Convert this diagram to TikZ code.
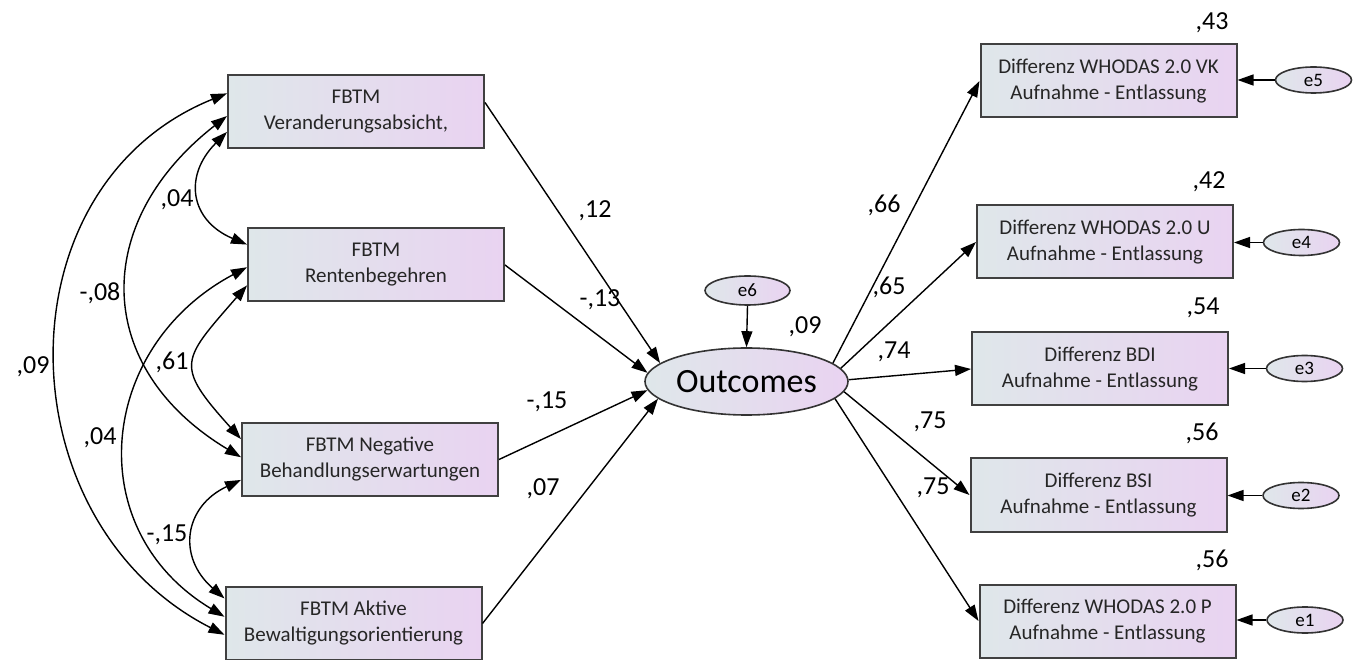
\documentclass[tikz,border=0pt]{standalone}
\usepackage{fontspec}
\setmainfont{Carlito}
\usetikzlibrary{arrows.meta,shapes.geometric}
\definecolor{boxl}{HTML}{DFE7EA}
\definecolor{boxr}{HTML}{E9D3F1}
\begin{document}
\begin{tikzpicture}[x=0.5pt,y=0.5pt,
  obs/.style={draw=black!75,line width=1pt,left color=boxl,right color=boxr,minimum width=128pt,minimum height=36.5pt,inner sep=0pt,align=center,text=black!85,font=\fontsize{10.5}{13}\selectfont},
  lat/.style={ellipse,draw=black!80,line width=0.8pt,left color=boxl,right color=boxr,inner sep=0pt},
  err/.style={lat,minimum width=38pt,minimum height=13pt,font=\fontsize{9.5}{10}\selectfont},
  val/.style={font=\fontsize{13}{15}\selectfont},
  reg/.style={line width=0.7pt,-{Triangle[length=8pt,width=5.5pt]}},
  cov/.style={line width=0.7pt,{Triangle[length=8pt,width=5.5pt]}-{Triangle[length=8pt,width=5.5pt]}}]
\useasboundingbox (0,0) rectangle (1354,659);
% predictors
\node[obs] (fa) at (356,547.5) {FBTM\\Veranderungsabsicht,};
\node[obs] (fb) at (376,394) {FBTM\\Rentenbegehren};
\node[obs] (fc) at (370,199.5) {FBTM Negative\\Behandlungserwartungen};
\node[obs] (fd) at (353.5,35.5) {FBTM Aktive\\Bewaltigungsorientierung};
% latent
\node[lat,minimum width=101.5pt,minimum height=33.5pt,font=\fontsize{17}{20}\selectfont] (oc) at (746.5,277.5) {Outcomes};
\node[err,minimum width=42.5pt,minimum height=14.5pt] (e6) at (747.5,368.5) {e6};
% indicators
\node[obs] (r1) at (1108.5,578) {Differenz WHODAS 2.0 VK\\Aufnahme - Entlassung};
\node[obs] (r2) at (1105,417) {Differenz WHODAS 2.0 U\\Aufnahme - Entlassung};
\node[obs] (r3) at (1100,290) {Differenz BDI\\Aufnahme - Entlassung};
\node[obs] (r4) at (1098.5,164) {Differenz BSI\\Aufnahme - Entlassung};
\node[obs] (r5) at (1107.5,38) {Differenz WHODAS 2.0 P\\Aufnahme - Entlassung};
\node[err] (e5) at (1313.5,579) {e5};
\node[err] (e4) at (1301.5,416.5) {e4};
\node[err] (e3) at (1304.5,290.5) {e3};
\node[err] (e2) at (1301,163.5) {e2};
\node[err] (e1) at (1305,39) {e1};
% covariances
\draw[cov] (fa.189) .. controls +(225:62) and +(157:62) .. (fb.171);
\draw[cov] (fa.182) .. controls +(218:173) and +(149:173) .. (fc.179);
\draw[cov] (fa.172) .. controls +(202:248) and +(153:248) .. (fd.185);
\draw[cov] (fb.189) .. controls +(229:100) and +(132:100) .. (fc.171);
\draw[cov] (fb.181) .. controls +(208:169) and +(149:169) .. (fd.177);
\draw[cov] (fc.189) .. controls +(205:63) and +(139:63) .. (fd.169);
% paths
\draw[reg] (fa.4) -- (oc.168);
\draw[reg] (fb.east) -- (oc.175);
\draw[reg] (fc.east) -- (oc.185);
\draw[reg] (fd.east) -- (oc.191);
\draw[reg] (e6.south) -- (oc.north);
\draw[reg] (oc.12) -- (r1.west);
\draw[reg] (oc.8) -- (r2.west);
\draw[reg] (oc.1) -- (r3.west);
\draw[reg] (oc.354) -- (r4.west);
\draw[reg] (oc.349) -- (r5.west);
\draw[reg] (e5.west) -- (e5.west -| r1.east);
\draw[reg] (e4.west) -- (e4.west -| r2.east);
\draw[reg] (e3.west) -- (e3.west -| r3.east);
\draw[reg] (e2.west) -- (e2.west -| r4.east);
\draw[reg] (e1.west) -- (e1.west -| r5.east);
% estimates
\node[val] (c04a) at (177,459) {,04};
\node[val] (c08) at (100,366) {-,08};
\node[val] (c09) at (33,292) {,09};
\node[val] (c61) at (172,297) {,61};
\node[val] (c04b) at (100,221) {,04};
\node[val] (c15) at (167,124) {-,15};
\node[val] (v12) at (595,448) {,12};
\node[val] (v13) at (600,359) {-,13};
\node[val] (v15) at (547,257) {-,15};
\node[val] (v07) at (543,170) {,07};
\node[val] (v09) at (805,332) {,09};
\node[val] (v66) at (884,454) {,66};
\node[val] (v65) at (889,372) {,65};
\node[val] (v74) at (894,307) {,74};
\node[val] (v75a) at (930,237) {,75};
\node[val] (v75b) at (933,171) {,75};
\node[val] (v43) at (1212,636) {,43};
\node[val] (v42) at (1209,477) {,42};
\node[val] (v54) at (1203,351) {,54};
\node[val] (v56a) at (1202,226) {,56};
\node[val] (v56b) at (1212,99) {,56};
\end{tikzpicture}
\end{document}
